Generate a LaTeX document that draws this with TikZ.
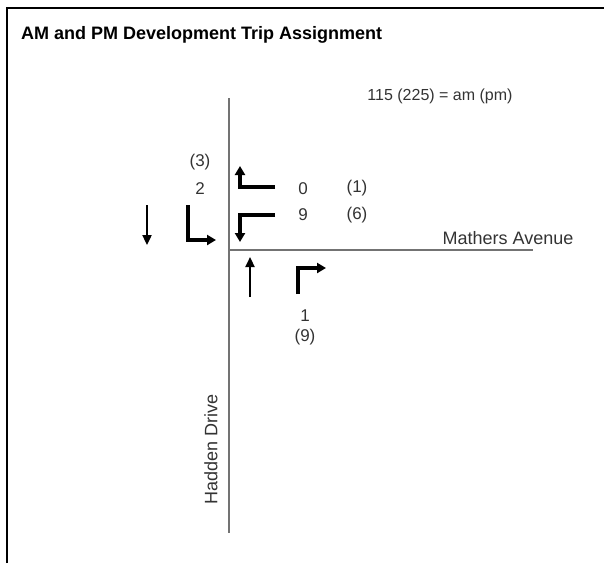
\documentclass[tikz,border=0pt]{standalone}
\usepackage{fontspec}
\setmainfont{Liberation Sans}
\usetikzlibrary{arrows.meta}

\begin{document}
\begin{tikzpicture}[x=1pt, y=-1pt,
    main text/.style={font=\fontsize{17}{20}\selectfont, text=black!80, inner sep=0pt,
                      text height=12.4pt, text depth=3.6pt},
    title text/.style={font=\fontsize{18}{21}\selectfont\bfseries, inner sep=0pt, anchor=west},
    road/.style={draw=black!55, line width=1.6pt},
    thru/.style={draw, line width=2.3pt, -{Triangle[length=10pt,width=9pt]}},
    turn/.style={draw, line width=3.4pt, -{Triangle[length=9pt,width=10pt]}}]

  \useasboundingbox (0,0) rectangle (604,563);
  \draw[line width=2pt] (7,563) -- (7,8) -- (604,8);

  \node[title text] (title) at (21,35) {AM and PM Development Trip Assignment};
  \node[main text, font=\fontsize{16}{19}\selectfont] (key) at (440,96) {115 (225) = am (pm)};
  \node[main text, font=\fontsize{18}{21}\selectfont] (mathers) at (508,240) {Mathers Avenue};
  \node[main text, font=\fontsize{18}{21}\selectfont, rotate=90] (hadden) at (213,449) {Hadden Drive};

  % road centre lines
  \coordinate (north) at (229,98);
  \coordinate (south) at (229,533);
  \coordinate (center) at (229,250);
  \coordinate (east) at (533,250);
  \path[road] (north) -- (south);
  \path[road] (center) -- (east);

  % southbound
  \coordinate (sbT0) at (147,205);
  \coordinate (sbT1) at (147,245);
  \coordinate (sbL0) at (188,205);
  \coordinate (sbL1) at (188,240);
  \coordinate (sbL2) at (216,240);
  \path[thru] (sbT0) -- (sbT1);
  \path[turn] (sbL0) -- (sbL1) -- (sbL2);
  \node[main text] (sbPM) at (200,162) {(3)};
  \node[main text] (sbAM) at (200,190) {2};

  % westbound
  \coordinate (wbR0) at (275,187);
  \coordinate (wbR1) at (240,187);
  \coordinate (wbR2) at (240,166);
  \coordinate (wbL0) at (275,215);
  \coordinate (wbL1) at (240,215);
  \coordinate (wbL2) at (240,242);
  \path[turn] (wbR0) -- (wbR1) -- (wbR2);
  \path[turn] (wbL0) -- (wbL1) -- (wbL2);
  \node[main text] (wbRAM) at (303,190) {0};
  \node[main text] (wbRPM) at (357,188) {(1)};
  \node[main text] (wbLAM) at (303,216) {9};
  \node[main text] (wbLPM) at (357,215) {(6)};

  % northbound
  \coordinate (nbT0) at (250,297);
  \coordinate (nbT1) at (250,257);
  \coordinate (nbR0) at (298,294);
  \coordinate (nbR1) at (298,268);
  \coordinate (nbR2) at (326,268);
  \path[thru] (nbT0) -- (nbT1);
  \path[turn] (nbR0) -- (nbR1) -- (nbR2);
  \node[main text] (nbAM) at (305,317) {1};
  \node[main text] (nbPM) at (305,337) {(9)};
\end{tikzpicture}
\end{document}
